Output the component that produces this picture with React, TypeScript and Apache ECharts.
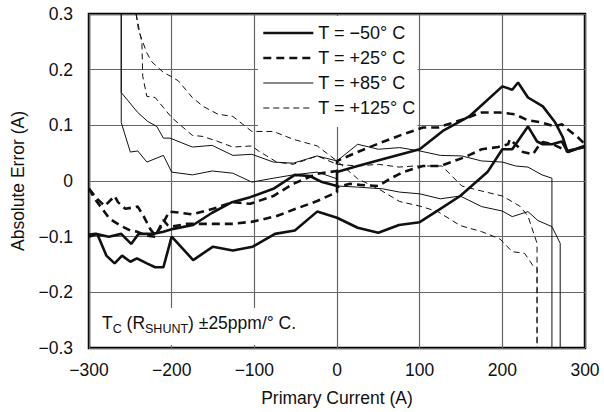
import { useEffect, useRef } from "react";
import * as echarts from "echarts";

// ---- axis ticks ----
const xTickLabels = ["−300", "−200", "−100", "0", "100", "200", "300"];
const yTickLabels = ["−0.3", "−0.2", "−0.1", "0", "0.1", "0.2", "0.3"];
const xMin = -300, xMax = 300, xStep = 100;
const yMin = -0.3, yMax = 0.3, yStep = 0.1;

const seriesNames = ["T = −50° C", "T = +25° C", "T = +85° C", "T = +125° C"];

// ---- T = -50 °C (two sweeps) ----
const t50aX = [-300,-290,-279,-269,-260,-250,-242,-230,-220,-210,-200,-174,-150,-126,-102,-75,-51,-24,0,25,50,75,100,125,149,182,200,212,231,242,249,260,272,279,300];
const t50aY = [-0.100,-0.095,-0.134,-0.148,-0.134,-0.145,-0.139,-0.148,-0.155,-0.155,-0.100,-0.142,-0.118,-0.125,-0.118,-0.095,-0.089,-0.055,-0.066,-0.084,-0.093,-0.079,-0.074,-0.050,-0.027,0.016,0.057,0.057,0.098,0.071,0.066,0.066,0.071,0.052,0.063];
const t50bX = [-300,-292,-276,-261,-249,-240,-223,-210,-198,-174,-151,-127,-105,-77,-51,-33,-18,0,0,25,55,100,128,160,200,212,219,231,249,264,273,279,288,300];
const t50bY = [-0.096,-0.095,-0.100,-0.095,-0.113,-0.095,-0.095,-0.091,-0.086,-0.079,-0.057,-0.038,-0.029,-0.014,0.011,0.009,-0.002,-0.009,0.016,0.027,0.039,0.057,0.090,0.116,0.170,0.164,0.177,0.150,0.134,0.105,0.079,0.052,0.057,0.063];

// ---- T = +25 °C ----
const t25aX = [-300,-290,-281,-269,-265,-256,-241,-234,-226,-220,-212,-203,-190,-175,-150,-126,-105,-77,-53,-24,0,0,28,55,80,104,122,151,175,197,215,231,248,264,272,279,291,300];
const t25aY = [-0.014,-0.032,-0.045,-0.027,-0.038,-0.050,-0.046,-0.063,-0.086,-0.098,-0.080,-0.055,-0.057,-0.060,-0.050,-0.038,-0.041,-0.027,-0.005,0.013,0.018,0.036,0.054,0.070,0.084,0.096,0.096,0.110,0.123,0.123,0.120,0.109,0.105,0.098,0.102,0.093,0.079,0.066];
const t25bX = [-300,-293,-275,-262,-250,-242,-230,-220,-210,-205,-200,-181,-150,-126,-102,-73,-50,-24,0,0,16,28,50,64,80,104,125,155,175,195,207,209,218,225,237,243,249,261,278,300];
const t25bY = [-0.014,-0.032,-0.068,-0.080,-0.089,-0.091,-0.098,-0.100,-0.070,-0.079,-0.082,-0.077,-0.077,-0.077,-0.073,-0.063,-0.050,-0.036,-0.020,-0.011,-0.005,-0.007,-0.009,0.004,0.016,0.027,0.027,0.043,0.057,0.061,0.066,0.075,0.063,0.052,0.048,0.061,0.070,0.066,0.054,0.061];

// ---- T = +85 °C ----
const t85aX = [-261,-261,-241,-229,-218,-210,-202,-175,-151,-126,-103,-77,-53,-24,0,25,50,76,100,125,151,175,200,216,231,248,260,260];
const t85aY = [0.30,0.159,0.123,0.107,0.098,0.077,0.077,0.061,0.064,0.046,0.048,0.034,0.032,0.045,0.036,0.066,0.057,0.060,0.054,0.046,0.045,0.036,0.034,0.027,0.025,0.011,0.005,-0.30];
const t85bX = [-261,-261,-250,-241,-230,-210,-200,-175,-151,-126,-103,-77,-53,-24,0,0,25,55,76,100,125,149,175,200,212,231,243,260,270,270];
const t85bY = [0.30,0.105,0.052,0.054,0.034,0.046,0.016,0.011,0.018,0.014,-0.002,0.005,0.011,0.016,0.004,-0.009,-0.011,-0.014,-0.020,-0.023,-0.032,-0.027,-0.046,-0.054,-0.064,-0.055,-0.071,-0.082,-0.112,-0.30];

// ---- T = +125 °C ----
const t125aX = [-243,-240,-230,-224,-210,-201,-192,-175,-162,-144,-126,-114,-103,-77,-53,-24,0,25,50,76,100,122,149,175,197,212,227,237,242,242];
const t125aY = [0.30,0.27,0.23,0.214,0.195,0.188,0.18,0.15,0.134,0.12,0.116,0.102,0.089,0.089,0.075,0.063,0.036,0.004,-0.014,-0.037,-0.045,-0.055,-0.080,-0.091,-0.104,-0.127,-0.130,-0.152,-0.157,-0.30];
const t125bX = [-243,-236,-235,-230,-220,-200,-175,-162,-144,-126,-103,-95,-85,-73,-53,-24,0,25,50,75,94,127,151,175,200,221,231,242,242];
const t125bY = [0.30,0.248,0.188,0.152,0.150,0.114,0.082,0.080,0.071,0.061,0.063,0.054,0.045,0.034,0.030,0.045,0.030,0.027,0.030,0.025,0.027,0.027,-0.009,-0.018,-0.027,-0.045,-0.063,-0.112,-0.30];

const FONT = "'Liberation Sans', Arial, Helvetica, sans-serif";
const INK = "#111";
const THICK = 2.6;
const THIN = 1;
const thickDash = [8, 5];
const thinDash = [6, 4];
const styles: [number, any][] = [
  [THICK, "solid"],
  [THICK, thickDash],
  [THIN, "solid"],
  [THIN, thinDash],
];

function mk(idx: number, xs: number[], ys: number[]) {
  const [width, type] = styles[idx];
  return {
    type: "line",
    name: seriesNames[idx],
    data: xs.map((x, i) => [x, ys[i]]),
    symbol: "none",
    showSymbol: false,
    silent: true,
    clip: true,
    z: 2,
    itemStyle: { color: INK },
    lineStyle: { color: INK, width, type },
    emphasis: { disabled: true },
  };
}

export default function App() {
  const ref = useRef<HTMLDivElement>(null);
  useEffect(() => {
    if (!ref.current) return;
    const chart = echarts.init(ref.current, null, { renderer: "svg" });
    const option: any = {
      animation: false,
      backgroundColor: "#fff",
      textStyle: { fontFamily: FONT },
      grid: {
        left: 89,
        right: 19,
        top: 14,
        bottom: 62,
        show: true,
        borderColor: "#000",
        borderWidth: 2.5,
        backgroundColor: "transparent",
      },
      xAxis: {
        type: "value",
        min: xMin,
        max: xMax,
        interval: xStep,
        name: "Primary Current (A)",
        nameLocation: "middle",
        nameGap: 41,
        nameTextStyle: { fontSize: 17.5, color: INK, fontFamily: FONT },
        axisLine: { show: false },
        axisTick: { show: false },
        axisLabel: {
          fontSize: 17.5,
          color: INK,
          fontFamily: FONT,
          margin: 13,
          formatter: (v: number) => xTickLabels[Math.round((v - xMin) / xStep)],
        },
        splitLine: { show: true, lineStyle: { color: "#666", width: 1.2 } },
      },
      yAxis: {
        type: "value",
        min: yMin,
        max: yMax,
        interval: yStep,
        name: "Absolute Error (A)",
        nameLocation: "middle",
        nameGap: 62,
        nameTextStyle: { fontSize: 17.5, color: INK, fontFamily: FONT },
        axisLine: { show: false },
        axisTick: { show: false },
        axisLabel: {
          fontSize: 17.5,
          color: INK,
          fontFamily: FONT,
          margin: 16,
          formatter: (v: number) => yTickLabels[Math.round((v - yMin) / yStep)],
        },
        splitLine: { show: true, lineStyle: { color: "#666", width: 1.2 } },
      },
      legend: {
        data: seriesNames.map((name, i) => ({
          name,
          lineStyle: { color: INK, width: styles[i][0], type: styles[i][1] },
        })),
        orient: "vertical",
        left: 258,
        top: 16,
        backgroundColor: "#fff",
        padding: [8, 2, 10, 4],
        itemWidth: 50,
        itemHeight: 14,
        itemGap: 7,
        selectedMode: false,
        itemStyle: { opacity: 0 },
        textStyle: { fontSize: 18, color: INK, fontFamily: FONT },
      },
      graphic: [
        {
          type: "rect",
          z: 10,
          silent: true,
          shape: { x: 95, y: 308, width: 215, height: 37 },
          style: { fill: "#fff" },
        },
        {
          type: "text",
          z: 11,
          silent: true,
          x: 102,
          y: 311,
          style: {
            text: "{n|T}{s|C}{n| (R}{s|SHUNT}{n|) ±25ppm/° C.}",
            align: "left",
            verticalAlign: "top",
            rich: {
              n: { fontSize: 17.5, lineHeight: 24, fontFamily: FONT, fill: INK, verticalAlign: "middle" },
              s: { fontSize: 12.5, lineHeight: 12, fontFamily: FONT, fill: INK, verticalAlign: "bottom" },
            },
          },
        },
      ],
      series: [
        mk(0, t50aX, t50aY),
        mk(1, t25aX, t25aY),
        mk(2, t85aX, t85aY),
        mk(3, t125aX, t125aY),
        mk(0, t50bX, t50bY),
        mk(1, t25bX, t25bY),
        mk(2, t85bX, t85bY),
        mk(3, t125bX, t125bY),
      ],
    };
    chart.setOption(option);
    return () => chart.dispose();
  }, []);
  return (
    <div
      ref={ref}
      style={{ position: "fixed", left: 0, top: 0, width: 604, height: 412, background: "#fff" }}
    />
  );
}
